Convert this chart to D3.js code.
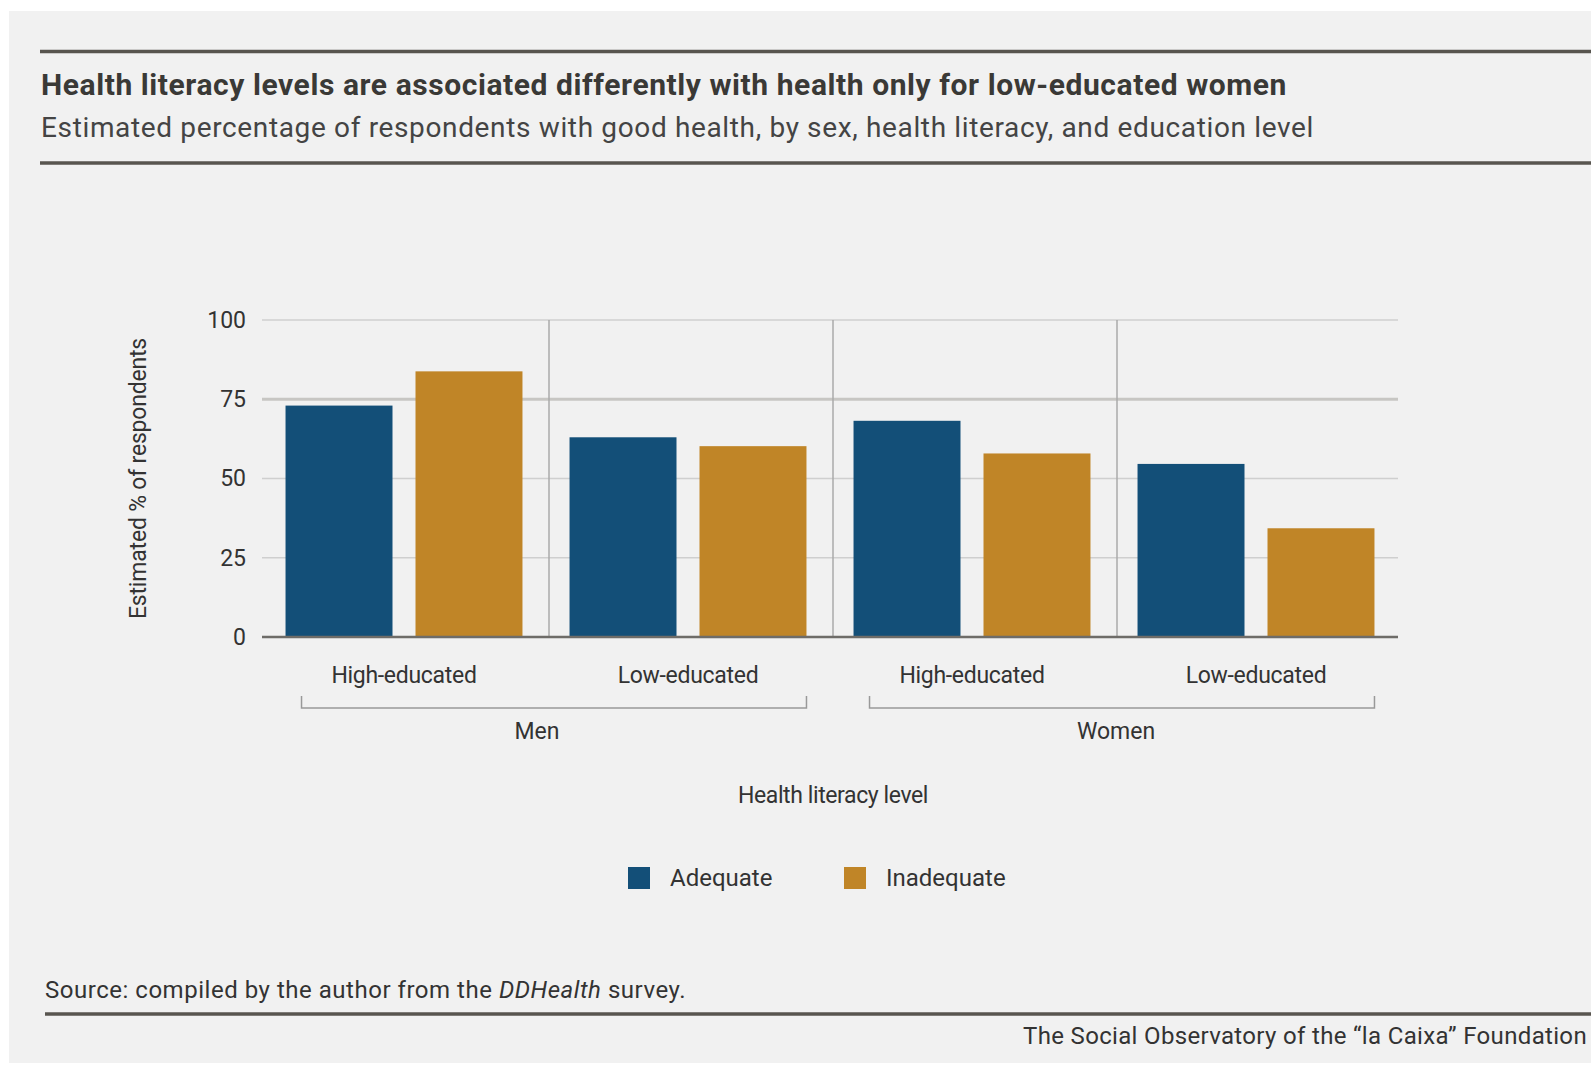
<!DOCTYPE html>
<html>
<head>
<meta charset="utf-8">
<script src="https://cdn.jsdelivr.net/npm/d3@7"></script>
<style>
  body { margin: 0; background: #fff; }
  svg text { font-family: Roboto, "Noto Sans", sans-serif; fill: #333; }
</style>
</head>
<body>
<svg width="1591" height="1065"></svg>
<script>
// data
const sexes = ['Men', 'Women'];
const education = ['High-educated', 'Low-educated'];
const series = ['Adequate', 'Inadequate'];
const adequate = [73.0, 63.0, 68.2, 54.6];
const inadequate = [83.8, 60.2, 57.9, 34.3];
const yTicks = [0, 25, 50, 75, 100];
const colors = ['#134f78', '#c08527'];

const svg = d3.select('svg');

// letter-spacing so a text line takes the width it has in the original
function fit(sel, w) {
    const n = sel.text().length;
    const len = sel.node().getComputedTextLength();
    sel.attr('letter-spacing', ((w - len) / n).toFixed(3));
}

// grey card
svg.append('rect')
    .attr('x', 9).attr('y', 11)
    .attr('width', 1591 - 9).attr('height', 1063 - 11)
    .attr('fill', '#f1f1f1');

// header rules + texts
svg.append('line')
    .attr('x1', 40).attr('x2', 1591).attr('y1', 51.5).attr('y2', 51.5)
    .attr('stroke', '#58554f').attr('stroke-width', 3.5);
svg.append('line')
    .attr('x1', 40).attr('x2', 1591).attr('y1', 163).attr('y2', 163)
    .attr('stroke', '#58554f').attr('stroke-width', 3.5);

const title = svg.append('text')
    .attr('x', 41).attr('y', 95)
    .attr('font-size', 30).attr('font-weight', 700)
    .style('fill', '#3a3936')
    .text('Health literacy levels are associated differently with health only for low-educated women');
fit(title, 1246);

const subtitle = svg.append('text')
    .attr('x', 41).attr('y', 137)
    .attr('font-size', 28)
    .style('fill', '#444')
    .text('Estimated percentage of respondents with good health, by sex, health literacy, and education level');
fit(subtitle, 1273);

// groups: sex x education
const groups = [];
sexes.forEach(s => education.forEach(e => groups.push(s + '|' + e)));
const rows = groups.map((g, i) => ({ key: g, values: [adequate[i], inadequate[i]] }));

const x0 = d3.scaleBand().domain(groups).range([262, 1398]);
const x1 = d3.scaleBand().domain(series).range([0, x0.bandwidth()])
    .paddingInner(0.177).paddingOuter(0.181);
const y = d3.scaleLinear().domain([0, 100]).range([637, 320]);

// horizontal grid
svg.append('g').selectAll('line')
    .data(yTicks.filter(d => d > 0))
    .join('line')
        .attr('x1', 262).attr('x2', 1398)
        .attr('y1', d => y(d)).attr('y2', d => y(d))
        .attr('stroke', d => d === 75 ? '#c7c6c3' : '#cfcfcf')
        .attr('stroke-width', d => d === 75 ? 3 : 1.5);

// vertical separators between groups
svg.append('g').selectAll('line')
    .data(groups.slice(1))
    .join('line')
        .attr('x1', d => x0(d) + 3).attr('x2', d => x0(d) + 3)
        .attr('y1', y(100)).attr('y2', y(0))
        .attr('stroke', '#aaa').attr('stroke-width', 1.5);

// bars
svg.append('g').selectAll('g')
    .data(rows)
    .join('g')
        .attr('transform', d => `translate(${x0(d.key)},0)`)
    .selectAll('rect')
    .data(d => d.values.map((v, i) => ({ s: series[i], v, c: colors[i] })))
    .join('rect')
        .attr('x', d => x1(d.s))
        .attr('y', d => y(d.v))
        .attr('width', x1.bandwidth())
        .attr('height', d => y(0) - y(d.v))
        .attr('fill', d => d.c);

// baseline
svg.append('line')
    .attr('x1', 262).attr('x2', 1398).attr('y1', y(0)).attr('y2', y(0))
    .attr('stroke', '#6e6c68').attr('stroke-width', 2.5);

// y axis
const yAxis = svg.append('g')
    .attr('transform', 'translate(262,0)')
    .call(d3.axisLeft(y).tickValues(yTicks).tickSize(0).tickPadding(16));
yAxis.select('.domain').remove();
yAxis.selectAll('text')
    .attr('font-size', 23)
    .attr('font-family', 'Roboto')
    .style('fill', '#333');

const yTitle = svg.append('text')
    .attr('transform', 'translate(146,478.5) rotate(-90)')
    .attr('text-anchor', 'middle')
    .attr('font-size', 23)
    .text('Estimated % of respondents');
fit(yTitle, 281);

// x category labels
svg.append('g').selectAll('text')
    .data(groups)
    .join('text')
        .attr('x', d => x0(d) + x0.bandwidth() / 2)
        .attr('y', 683)
        .attr('text-anchor', 'middle')
        .attr('font-size', 23)
        .attr('letter-spacing', -0.3)
        .text(d => d.split('|')[1]);

// brackets + sex labels
sexes.forEach((s, i) => {
    const first = x0(s + '|' + education[0]) + x1(series[0]) + 16;
    const last = x0(s + '|' + education[1]) + x1(series[1]) + x1.bandwidth();
    svg.append('path')
        .attr('d', `M${first},696V708H${last}V696`)
        .attr('fill', 'none')
        .attr('stroke', '#999')
        .attr('stroke-width', 1.5);
    const mid = (x0(s + '|' + education[0]) + x0(s + '|' + education[1]) + x0.bandwidth()) / 2;
    svg.append('text')
        .attr('x', i === 0 ? mid - 9 : mid + 2).attr('y', 739)
        .attr('text-anchor', 'middle')
        .attr('font-size', 23)
        .text(s);
});

svg.append('text')
    .attr('x', 833).attr('y', 803)
    .attr('text-anchor', 'middle')
    .attr('font-size', 23)
    .attr('letter-spacing', -0.4)
    .text('Health literacy level');

// legend
const legendX = [628, 844];
const legend = svg.append('g').selectAll('g')
    .data(series)
    .join('g')
        .attr('transform', (d, i) => `translate(${legendX[i]},867)`);
legend.append('rect')
    .attr('width', 22).attr('height', 22)
    .attr('fill', (d, i) => colors[i]);
legend.append('text')
    .attr('x', 42).attr('y', 19)
    .attr('font-size', 24)
    .text(d => d);

// source + footer
const source = svg.append('text')
    .attr('x', 45).attr('y', 998)
    .attr('font-size', 24);
source.append('tspan').text('Source: compiled by the author from the ');
source.append('tspan').attr('font-style', 'italic').text('DDHealth');
source.append('tspan').text(' survey.');
fit(source, 641);

svg.append('line')
    .attr('x1', 45).attr('x2', 1591).attr('y1', 1014).attr('y2', 1014)
    .attr('stroke', '#58554f').attr('stroke-width', 3.5);

const footer = svg.append('text')
    .attr('x', 1023).attr('y', 1044)
    .attr('font-size', 24)
    .text('The Social Observatory of the \u201cla Caixa\u201d Foundation');
fit(footer, 564);
</script>
</body>
</html>
